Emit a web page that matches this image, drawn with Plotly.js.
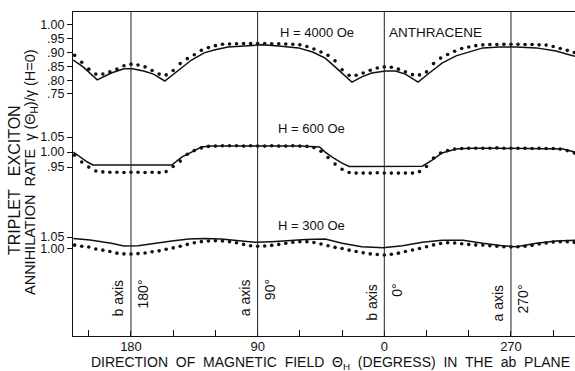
<!DOCTYPE html>
<html>
<head>
<meta charset="utf-8">
<script src="https://cdn.plot.ly/plotly-3.0.1.min.js"></script>
<style>html,body{margin:0;padding:0;background:#fff;}#chart{width:575px;height:371px;}</style>
</head>
<body>
<div id="chart"></div>
<script>
// ---- Data (angles in degrees; axis runs 180 -> 90 -> 0 -> 270(=-90)) ----
const dotAngles = [220, 215, 210, 205, 200, 195, 190, 185, 180, 175, 170, 165, 160, 155, 150, 145, 140, 135, 130, 125, 120, 115,
  110, 105, 100, 95, 90, 85, 80, 75, 70, 65, 60,
  55, 50, 45, 40, 35, 30, 25, 20, 15, 10, 5, 0,
  -5, -10, -15, -20, -25, -30, -35, -40, -45, -50, -55, -60, -65,
  -70, -75, -80, -85, -90, -95, -100, -105, -110, -115, -120, -125, -130, -135];

// H = 4000 Oe
const dots4000 = [0.890, 0.865, 0.840, 0.822, 0.822, 0.830, 0.840, 0.852, 0.858, 0.855, 0.848, 0.835, 0.822, 0.819, 0.835, 0.860, 0.878, 0.892, 0.908, 0.918, 0.925, 0.930,
  0.931, 0.932, 0.933, 0.933, 0.933, 0.933, 0.932, 0.932, 0.931, 0.930, 0.928,
  0.922, 0.913, 0.902, 0.890, 0.870, 0.838, 0.818, 0.818, 0.826, 0.836, 0.844, 0.848,
  0.847, 0.840, 0.830, 0.820, 0.819, 0.830, 0.860, 0.880, 0.893, 0.905, 0.915, 0.920, 0.925,
  0.928, 0.929, 0.929, 0.930, 0.930, 0.930, 0.929, 0.929, 0.928, 0.927, 0.922, 0.915, 0.908, 0.900];
const line4000Angles = [221, 214, 204, 194, 185, 179, 171, 164, 156, 146, 137, 128, 121, 111, 99, 87, 75, 61, 51, 42,
  35, 30, 23, 16, 9, -1, -8, -15, -24, -32, -41, -51, -61, -70, -82, -94, -108, -122, -132, -138];
const line4000 = [0.873, 0.848, 0.801, 0.826, 0.841, 0.841, 0.833, 0.822, 0.797, 0.837, 0.873, 0.899, 0.909, 0.920, 0.924, 0.928, 0.924, 0.917, 0.902, 0.880,
  0.848, 0.826, 0.793, 0.812, 0.826, 0.833, 0.833, 0.822, 0.793, 0.826, 0.862, 0.888, 0.902, 0.917, 0.920, 0.920, 0.917, 0.906, 0.891, 0.884];

// H = 600 Oe
const dots600 = [0.990, 0.967, 0.950, 0.937, 0.934, 0.933, 0.933, 0.932, 0.933, 0.933, 0.932, 0.933, 0.932, 0.935, 0.952, 0.970, 0.993, 1.005, 1.014, 1.019, 1.020, 1.021,
  1.021, 1.021, 1.020, 1.021, 1.020, 1.020, 1.021, 1.020, 1.020, 1.021, 1.020,
  1.019, 1.015, 1.003, 0.982, 0.960, 0.943, 0.932, 0.930, 0.930, 0.930, 0.931, 0.930,
  0.930, 0.930, 0.930, 0.930, 0.935, 0.952, 0.980, 0.997, 1.005, 1.010, 1.012, 1.013, 1.013,
  1.013, 1.013, 1.014, 1.013, 1.013, 1.013, 1.013, 1.012, 1.013, 1.012, 1.012, 1.010, 1.005, 0.997];
const line600Angles = [221, 216, 211, 207, 190, 170, 151, 144, 137, 130, 123, 100, 80, 60, 46, 42, 37, 30, 25, 5,
  -10, -27, -34, -41, -51, -61, -80, -100, -127, -138];
const line600 = [1.000, 0.983, 0.967, 0.957, 0.956, 0.957, 0.957, 0.983, 1.000, 1.017, 1.020, 1.020, 1.021, 1.020, 1.017, 1.000, 0.983, 0.963, 0.952, 0.952,
  0.953, 0.953, 0.973, 0.997, 1.010, 1.013, 1.013, 1.012, 1.010, 0.997];

// H = 300 Oe
const dots300 = [1.015, 1.010, 1.007, 0.998, 0.993, 0.987, 0.980, 0.977, 0.976, 0.978, 0.981, 0.986, 0.990, 0.997, 1.003, 1.010, 1.018, 1.025, 1.030, 1.033, 1.034, 1.033,
  1.030, 1.025, 1.018, 1.012, 1.010, 1.011, 1.014, 1.018, 1.023, 1.027, 1.030,
  1.030, 1.026, 1.020, 1.012, 1.005, 1.000, 0.993, 0.987, 0.982, 0.977, 0.974, 0.972,
  0.975, 0.980, 0.987, 0.994, 1.000, 1.008, 1.016, 1.022, 1.025, 1.024, 1.021, 1.018, 1.016,
  1.015, 1.012, 1.010, 1.008, 1.007, 1.008, 1.010, 1.014, 1.020, 1.024, 1.028, 1.030, 1.030, 1.027];
const line300Angles = [221, 209, 194, 185, 175, 164, 151, 139, 128, 116, 104, 92, 80, 68, 56, 42, 30, 16, 1, -13,
  -27, -41, -56, -70, -84, -94, -108, -122, -138];
const line300 = [1.044, 1.037, 1.023, 1.011, 1.012, 1.023, 1.033, 1.041, 1.044, 1.041, 1.033, 1.027, 1.030, 1.036, 1.039, 1.041, 1.023, 1.008, 1.003, 1.012,
  1.027, 1.036, 1.036, 1.023, 1.012, 1.008, 1.023, 1.033, 1.037];

// Axis labels
const xTickVals = [180, 90, 0, -90];
const xTickText = ['180', '90', '0', '270'];
const xMinorVals = [210, 150, 120, 60, 30, -30, -60, -120];
const crystalAngles = [180, 90, 0, -90];
const crystalAxisNames = ['b axis', 'a axis', 'b axis', 'a axis'];
const crystalDegLabels = ['180°', '90°', '0°', '270°'];
const yTicks1 = [0.75, 0.80, 0.85, 0.90, 0.95, 1.00];
const yText1 = ['.75', '.80', '.85', '.90', '.95', '1.00'];
const yTicks2 = [0.95, 1.00, 1.05];
const yText2 = ['.95', '1.00', '1.05'];
const yTicks3 = [1.00, 1.05];
const yText3 = ['1.00', '1.05'];

// ---- Traces ----
const FONT = 'Liberation Sans, Arial, sans-serif';
function lineTrace(x, y, ax) {
  return {x: x, y: y, yaxis: ax, type: 'scatter', mode: 'lines', line: {color: '#111', width: 1.5}, hoverinfo: 'skip', showlegend: false};
}
function dotTrace(y, ax) {
  return {x: dotAngles, y: y, yaxis: ax, type: 'scatter', mode: 'markers', marker: {color: '#111', size: 3.6}, hoverinfo: 'skip', showlegend: false};
}
const data = [
  lineTrace(line4000Angles, line4000, 'y'), dotTrace(dots4000, 'y'),
  lineTrace(line600Angles, line600, 'y2'), dotTrace(dots600, 'y2'),
  lineTrace(line300Angles, line300, 'y3'), dotTrace(dots300, 'y3')
];

// ---- Layout ----
const L = 73, R = 575, T = 12, B = 336;
const px = v => (v - L) / (R - L);
const py = v => (B - v) / (B - T);

function yAx(range, vals, text, extra) {
  return Object.assign({
    range: range, tickvals: vals, ticktext: text, ticks: 'outside', ticklen: 5, tickwidth: 1,
    tickcolor: '#111', showgrid: false, zeroline: false, showline: false,
    tickfont: {family: FONT, size: 12.5, color: '#111'}, fixedrange: true
  }, extra || {});
}
const r1 = [-0.127, 1.047], r2 = [0.387, 1.467], r3 = [0.620, 2.028];

const shapes = crystalAngles.map(a => ({
  type: 'line', xref: 'x', yref: 'paper', x0: a, x1: a, y0: 0, y1: 1,
  line: {color: '#222', width: 1}
}));

const annotations = [];
crystalAngles.forEach((a, i) => {
  const top = (a === 0 || a === -90) ? 282 : 277;
  annotations.push({xref: 'x', yref: 'paper', x: a, y: py(top), xanchor: 'right', yanchor: 'top', xshift: -3,
    text: crystalAxisNames[i], textangle: -90, showarrow: false, font: {family: FONT, size: 14, color: '#111'}});
  annotations.push({xref: 'x', yref: 'paper', x: a, y: py(top), xanchor: 'left', yanchor: 'top', xshift: 2,
    text: crystalDegLabels[i], textangle: -90, showarrow: false, font: {family: FONT, size: 14, color: '#111'}});
});
const tf = {family: FONT, size: 13, color: '#111'};
annotations.push({xref: 'paper', yref: 'paper', x: px(278), y: py(33), xanchor: 'left', yanchor: 'middle', text: 'H = 4000 Oe', showarrow: false, font: tf});
annotations.push({xref: 'paper', yref: 'paper', x: px(387), y: py(32.5), xanchor: 'left', yanchor: 'middle', text: 'ANTHRACENE', showarrow: false, font: {family: FONT, size: 13.5, color: '#111'}});
annotations.push({xref: 'paper', yref: 'paper', x: px(276), y: py(128), xanchor: 'left', yanchor: 'middle', text: 'H = 600 Oe', showarrow: false, font: tf});
annotations.push({xref: 'paper', yref: 'paper', x: px(276), y: py(225), xanchor: 'left', yanchor: 'middle', text: 'H = 300 Oe', showarrow: false, font: tf});
// axis titles
annotations.push({xref: 'paper', yref: 'paper', x: px(330), y: py(362.5), xanchor: 'center', yanchor: 'middle',
  text: 'DIRECTION  OF  MAGNETIC  FIELD  Θ<sub>H</sub>  (DEGRESS)  IN  THE  ab  PLANE', showarrow: false,
  font: {family: FONT, size: 14, color: '#111'}});
annotations.push({xref: 'paper', yref: 'paper', x: px(14), y: py(180), xanchor: 'center', yanchor: 'middle', textangle: -90,
  text: 'TRIPLET   EXCITON', showarrow: false, font: {family: FONT, size: 16, color: '#111'}});
annotations.push({xref: 'paper', yref: 'paper', x: px(31), y: py(172), xanchor: 'center', yanchor: 'middle', textangle: -90,
  text: 'ANNIHILATION  RATE  γ (Θ<sub>H</sub>)/γ (H=0)', showarrow: false, font: {family: FONT, size: 14.5, color: '#111'}});

const layout = {
  width: 575, height: 371,
  margin: {l: L, r: 575 - R, t: T, b: 371 - B, pad: 0},
  paper_bgcolor: '#fff', plot_bgcolor: '#fff',
  showlegend: false,
  xaxis: {
    range: [221.2, -135.5], tickmode: 'array', tickvals: xTickVals, ticktext: xTickText, ticks: 'inside', ticklen: 5, tickwidth: 1,
    tickcolor: '#111', showline: true, mirror: true, linecolor: '#111', linewidth: 1, showgrid: false, zeroline: false,
    ticklabelstandoff: -2,
    minor: {tickmode: 'array', tickvals: xMinorVals, ticks: 'inside', ticklen: 6, tickwidth: 1, tickcolor: '#111', showgrid: false},
    tickfont: {family: FONT, size: 13, color: '#111'}, fixedrange: true
  },
  yaxis: yAx(r1, yTicks1, yText1, {showline: true, linecolor: '#111', linewidth: 1}),
  yaxis2: yAx(r2, yTicks2, yText2, {overlaying: 'y'}),
  yaxis3: yAx(r3, yTicks3, yText3, {overlaying: 'y'}),
  yaxis4: yAx(r1, yTicks1, yText1, {overlaying: 'y', side: 'right', ticks: 'inside', showticklabels: false}),
  yaxis5: yAx(r2, yTicks2, yText2, {overlaying: 'y', side: 'right', ticks: 'inside', showticklabels: false}),
  yaxis6: yAx(r3, yTicks3, yText3, {overlaying: 'y', side: 'right', ticks: 'inside', showticklabels: false}),
  shapes: shapes,
  annotations: annotations
};

Plotly.newPlot('chart', data, layout, {staticPlot: true, displayModeBar: false});
</script>
</body>
</html>
